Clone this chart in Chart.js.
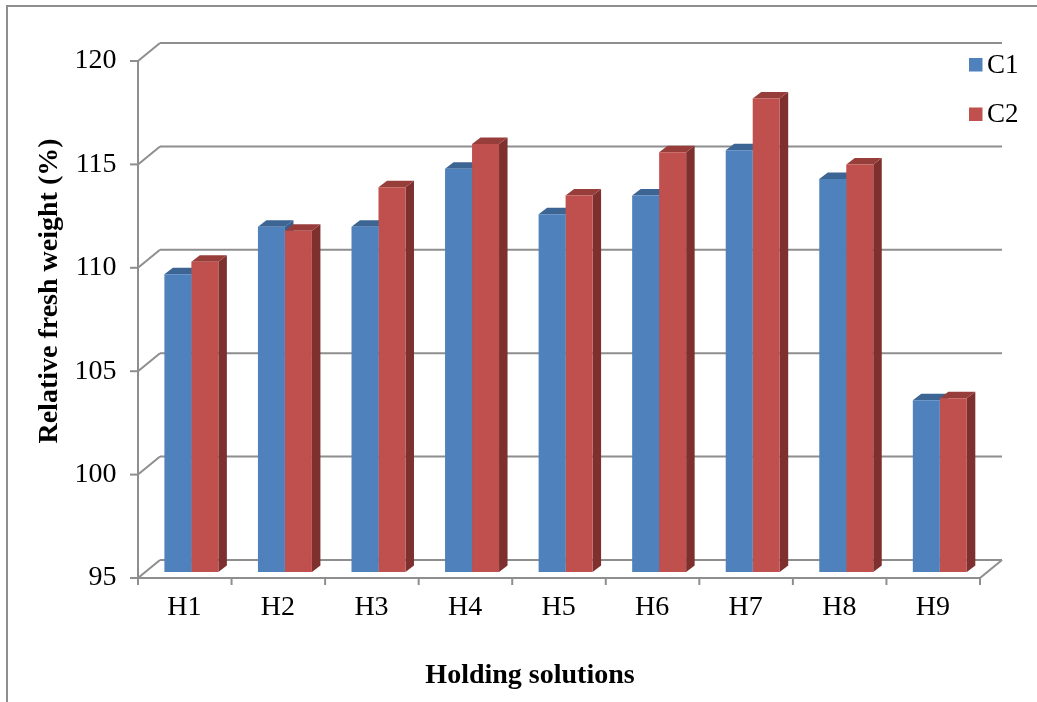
<!DOCTYPE html>
<html>
<head>
<meta charset="utf-8">
<title>Relative fresh weight</title>
<script src="https://cdn.jsdelivr.net/npm/chart.js@4.4.0/dist/chart.umd.min.js"></script>
<style>
  html, body { margin: 0; padding: 0; background: #fff; }
  #wrap { width: 1037px; height: 702px; }
</style>
</head>
<body>
<div id="wrap"><canvas id="freshChart" width="1037" height="702"></canvas></div>
<script>
// =======================
// DATA
// =======================
const categories = ["H1", "H2", "H3", "H4", "H5", "H6", "H7", "H8", "H9"];
const c1Values = [109.4, 111.7, 111.7, 114.5, 112.3, 113.2, 115.4, 114.0, 103.3];
const c2Values = [110.0, 111.5, 113.6, 115.7, 113.2, 115.3, 117.9, 114.7, 103.4];
const yTicks = [95, 100, 105, 110, 115, 120];
const seriesNames = ["C1", "C2"];

// =======================
// LOOK
// =======================
const SERIF = '"Times New Roman", "Liberation Serif", serif';
const GRID = "#8e8e8e";
const colors = {
  C1: { front: "#4f81bd", top: "#3c6593", side: "#3a5f8c" },
  C2: { front: "#c0504d", top: "#973e3b", side: "#7d302e" }
};
// offsets from the bar plane to the front axis and to the back wall
const FRONT = { dx: -6.6, dy: 6 };
const BACK = { dx: 15.4, dy: -12 };
// depth of each column
const BAR = { dx: 8.5, dy: -6.5 };

function poly(ctx, pts, fill) {
  ctx.beginPath();
  ctx.moveTo(pts[0][0], pts[0][1]);
  for (let i = 1; i < pts.length; i++) ctx.lineTo(pts[i][0], pts[i][1]);
  ctx.closePath();
  ctx.fillStyle = fill;
  ctx.fill();
}

function line(ctx, x1, y1, x2, y2) {
  ctx.beginPath();
  ctx.moveTo(x1, y1);
  ctx.lineTo(x2, y2);
  ctx.stroke();
}

// =======================
// 3D WALLS + COLUMN FACES
// =======================
const boxPlugin = {
  id: "box3d",
  beforeDatasetsDraw(chart) {
    const { ctx, chartArea: area, scales: { x, y } } = chart;
    const yMin = yTicks[0];
    const yMax = yTicks[yTicks.length - 1];

    ctx.save();
    ctx.strokeStyle = GRID;
    ctx.lineWidth = 2;

    // back wall gridlines + side wall diagonals + left ticks
    yTicks.forEach(v => {
      const py = y.getPixelForValue(v);
      line(ctx, area.left + BACK.dx, py + BACK.dy, area.right + BACK.dx, py + BACK.dy);
      line(ctx, area.left + FRONT.dx, py + FRONT.dy, area.left + BACK.dx, py + BACK.dy);
      line(ctx, area.left + FRONT.dx - 8, py + FRONT.dy, area.left + FRONT.dx, py + FRONT.dy);
    });

    // front vertical axis
    const fTop = y.getPixelForValue(yMax) + FRONT.dy;
    const fBottom = y.getPixelForValue(yMin) + FRONT.dy;
    line(ctx, area.left + FRONT.dx, fTop, area.left + FRONT.dx, fBottom);

    // floor front edge + right edge
    const bBottom = y.getPixelForValue(yMin) + BACK.dy;
    line(ctx, area.left + FRONT.dx, fBottom, area.right + FRONT.dx, fBottom);
    line(ctx, area.right + FRONT.dx, fBottom, area.right + BACK.dx, bBottom);

    // category ticks on the front edge
    const step = (area.right - area.left) / categories.length;
    for (let i = 0; i <= categories.length; i++) {
      const px = area.left + FRONT.dx + step * i;
      line(ctx, px, fBottom, px, fBottom + 7);
    }

    // column tops and sides, back series first
    categories.forEach((c, j) => {
      chart.data.datasets.forEach((ds, i) => {
        const bar = chart.getDatasetMeta(i).data[j];
        const p = bar.getProps(["x", "y", "base", "width"], true);
        const L = p.x - p.width / 2;
        const R = p.x + p.width / 2;
        const base = Math.min(p.base, area.bottom);
        const col = colors[ds.label];
        poly(ctx, [[R, p.y], [R + BAR.dx, p.y + BAR.dy], [R + BAR.dx, base + BAR.dy], [R, base]], col.side);
        poly(ctx, [[L, p.y], [R, p.y], [R + BAR.dx, p.y + BAR.dy], [L + BAR.dx, p.y + BAR.dy]], col.top);
      });
    });
    ctx.restore();
  },

  afterDraw(chart) {
    const { ctx } = chart;
    ctx.save();

    // outer frame
    ctx.strokeStyle = GRID;
    ctx.lineWidth = 2;
    line(ctx, 7, 6, 7, 702);
    line(ctx, 6, 6, 1037, 6);

    // legend
    ctx.font = "27px " + SERIF;
    ctx.textAlign = "left";
    ctx.textBaseline = "middle";
    chart.data.datasets.forEach((ds, i) => {
      const top = 58 + i * 49.5;
      ctx.fillStyle = colors[ds.label].front;
      ctx.fillRect(969, top, 13.5, 13.5);
      ctx.fillStyle = "#000";
      ctx.fillText(ds.label, 987, top + 7.5);
    });

    // axis titles
    ctx.font = "bold 28px " + SERIF;
    ctx.textAlign = "center";
    ctx.textBaseline = "alphabetic";
    ctx.fillText("Holding solutions", 530, 683);
    ctx.translate(57, 291);
    ctx.rotate(-Math.PI / 2);
    ctx.fillText("Relative fresh weight (%)", 0, 0);
    ctx.restore();
  }
};

// =======================
// CHART
// =======================
new Chart(document.getElementById("freshChart"), {
  type: "bar",
  data: {
    labels: categories,
    datasets: [
      { label: seriesNames[0], data: c1Values, backgroundColor: colors.C1.front },
      { label: seriesNames[1], data: c2Values, backgroundColor: colors.C2.front }
    ]
  },
  options: {
    responsive: false,
    devicePixelRatio: 1,
    animation: false,
    events: [],
    layout: { padding: { left: 0, top: 55, right: 50.4, bottom: 0 } },
    datasets: {
      bar: { categoryPercentage: 0.577, barPercentage: 1, borderWidth: 0 }
    },
    plugins: {
      legend: { display: false },
      tooltip: { enabled: false }
    },
    scales: {
      x: {
        grid: { display: false, drawTicks: false },
        border: { display: false },
        ticks: {
          font: { family: SERIF, size: 28 },
          color: "#000",
          padding: 19,
          labelOffset: -7
        },
        afterFit(scale) { scale.height = 130; }
      },
      y: {
        min: 95,
        max: 120,
        grid: { display: false, drawTicks: false },
        border: { display: false },
        ticks: {
          stepSize: 5,
          font: { family: SERIF, size: 28 },
          color: "#000",
          padding: 28,
          labelOffset: 6
        },
        afterFit(scale) { scale.width = 144.6; }
      }
    }
  },
  plugins: [boxPlugin]
});
</script>
</body>
</html>
